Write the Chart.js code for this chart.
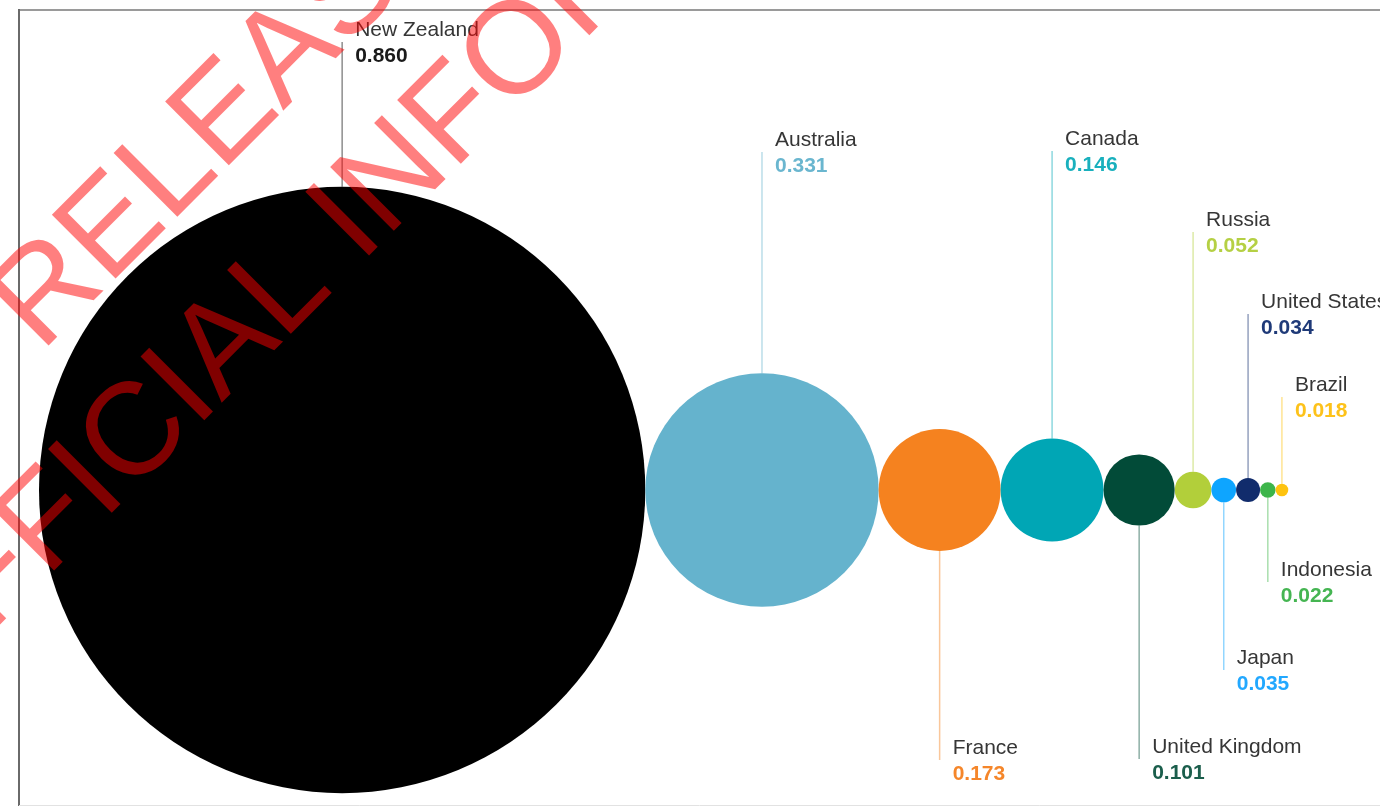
<!DOCTYPE html>
<html>
<head>
<meta charset="utf-8">
<script src="https://cdn.jsdelivr.net/npm/chart.js@4.4.1/dist/chart.umd.min.js"></script>
<style>
html,body{margin:0;padding:0;background:#fff;overflow:hidden}
#wrap{width:1380px;height:806px;position:relative}
canvas{display:block}
</style>
</head>
<body>
<div id="wrap"><canvas id="c" width="1380" height="806"></canvas></div>
<script>
// ---- data ----
const countries = ['New Zealand','Australia','France','Canada','United Kingdom','Russia','Japan','United States','Indonesia','Brazil'];
const values = [0.860, 0.331, 0.173, 0.146, 0.101, 0.052, 0.035, 0.034, 0.022, 0.018];
const valueLabels = ['0.860','0.331','0.173','0.146','0.101','0.052','0.035','0.034','0.022','0.018'];
const colors = ['#000000','#65b3cd','#f5821f','#00a6b5','#024b38','#b2cf3a','#0ea5ff','#112c6c','#3db54a','#fec30f'];
const valueColors = ['#1a1a1a','#6ab6cf','#f5862a','#19b0bd','#1b5e4c','#b5d044','#22a8ff','#1f3a78','#45b552','#fdc21a'];
const watermarkLines = ['RELEASED UNDER THE', 'OFFICIAL INFORMATION ACT'];

// ---- layout (annotation positions, px) ----
const labelSide = ['top','top','bottom','top','bottom','top','bottom','top','bottom','top'];
const labelEndY = [42, 152, 760, 151, 759, 232, 670, 314, 582, 397];

// bubbles sit edge to edge: centre = sum of previous diameters + own radius (value units)
const centers = [];
let acc = 0;
values.forEach(v => { centers.push(acc + v); acc += 2 * v; });

function pxPerUnit(chart) {
  const s = chart.scales.x;
  if (!s) return 0;
  const d = s.getPixelForValue(1) - s.getPixelForValue(0);
  return isFinite(d) ? d : 0;
}

const framePlugin = {
  id: 'frame',
  beforeDraw(chart) {
    const ctx = chart.ctx;
    ctx.save();
    ctx.fillStyle = '#ffffff';
    ctx.fillRect(0, 0, chart.width, chart.height);
    ctx.lineWidth = 2;
    ctx.strokeStyle = '#9a9a9a';
    ctx.beginPath(); ctx.moveTo(18, 10); ctx.lineTo(chart.width, 10); ctx.stroke();
    ctx.strokeStyle = '#6a6a6a';
    ctx.beginPath(); ctx.moveTo(19, 9); ctx.lineTo(19, chart.height); ctx.stroke();
    ctx.lineWidth = 1;
    ctx.strokeStyle = '#e2e2e2';
    ctx.beginPath(); ctx.moveTo(19, 805.5); ctx.lineTo(chart.width, 805.5); ctx.stroke();
    ctx.restore();
  }
};

const labelPlugin = {
  id: 'labels',
  afterDatasetsDraw(chart) {
    const ctx = chart.ctx;
    const meta = chart.getDatasetMeta(0);
    meta.data.forEach((el, i) => {
      const r = el.options.radius;
      const x = el.x, y = el.y;
      const end = labelEndY[i];
      const start = labelSide[i] === 'top' ? y - r : y + r;
      ctx.save();
      ctx.globalAlpha = 0.45;
      ctx.strokeStyle = colors[i];
      ctx.lineWidth = 1.5;
      ctx.beginPath();
      ctx.moveTo(x, start);
      ctx.lineTo(x, end);
      ctx.stroke();
      ctx.restore();

      ctx.save();
      ctx.textAlign = 'left';
      ctx.textBaseline = 'alphabetic';
      ctx.fillStyle = '#363636';
      ctx.font = '21px "Liberation Sans", Arial, sans-serif';
      ctx.fillText(countries[i], x + 13, end - 6);
      ctx.fillStyle = valueColors[i];
      ctx.font = 'bold 21px "Liberation Sans", Arial, sans-serif';
      ctx.fillText(valueLabels[i], x + 13, end + 20);
      ctx.restore();
    });
  }
};

const watermarkPlugin = {
  id: 'watermark',
  afterDraw(chart) {
    const ctx = chart.ctx;
    ctx.save();
    ctx.fillStyle = 'rgba(255,0,0,0.5)';
    ctx.font = '131px "Liberation Sans", Arial, sans-serif';
    ctx.textAlign = 'left';
    ctx.textBaseline = 'alphabetic';
    ctx.translate(41, 353);
    ctx.rotate(-Math.PI / 4);
    ctx.fillText(watermarkLines[0], 0, 0);
    ctx.fillText(watermarkLines[1], -337, 163);
    ctx.restore();
  }
};

const chart = new Chart(document.getElementById('c'), {
  type: 'bubble',
  data: {
    datasets: [{
      label: 'Value',
      data: values.map((v, i) => ({ x: centers[i], y: 0, r: 1 })),
      backgroundColor: colors,
      borderWidth: 0,
      hoverRadius: 0,
      hoverBorderWidth: 0,
      clip: false
    }]
  },
  options: {
    responsive: false,
    devicePixelRatio: 1,
    animation: false,
    events: [],
    layout: { autoPadding: false, padding: { left: 39, right: 1.5, top: 174, bottom: 0 } },
    scales: {
      x: { type: 'linear', min: 0, max: 3.8, display: false },
      y: { type: 'linear', min: -1, max: 1, display: false }
    },
    plugins: { legend: { display: false }, tooltip: { enabled: false } }
  },
  plugins: [framePlugin, labelPlugin, watermarkPlugin]
});

// radius in pixels = value measured on the same x scale that spaces the bubbles
const k = pxPerUnit(chart);
chart.data.datasets[0].data.forEach((d, i) => { d.r = values[i] * k; });
chart.update();
</script>
</body>
</html>
